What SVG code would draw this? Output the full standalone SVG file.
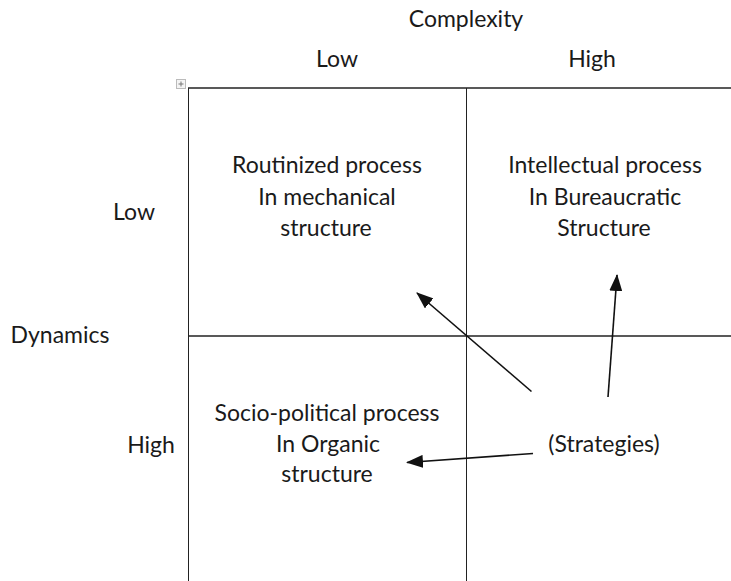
<svg xmlns="http://www.w3.org/2000/svg" width="731" height="581" viewBox="0 0 731 581">
  <style>
    text { font-family: Lato, "Open Sans", "Liberation Sans", sans-serif; font-size: 23px; fill: #1a1a1a; text-anchor: middle; }
    .grid { stroke: #222; stroke-width: 1; fill: none; }
    .grid-top { stroke: #222; stroke-width: 1.6; fill: none; }
    .arrow { stroke: #111; stroke-width: 1.6; fill: none; marker-end: url(#head); }
  </style>
  <defs>
    <marker id="head" viewBox="0 0 17 13" refX="16" refY="6.5" markerWidth="17" markerHeight="13" markerUnits="userSpaceOnUse" orient="auto">
      <path d="M0,0 L17,6.5 L0,13 Z" fill="#111"/>
    </marker>
  </defs>
  <rect width="731" height="581" fill="#fff"/>

  <!-- axis titles and headers -->
  <text x="466" y="27">Complexity</text>
  <text x="337" y="67">Low</text>
  <text x="592" y="67">High</text>
  <text x="134" y="220">Low</text>
  <text x="60" y="343">Dynamics</text>
  <text x="151" y="453">High</text>

  <!-- table move handle -->
  <g id="handle">
    <rect x="176.5" y="79.5" width="9" height="9" fill="#f4f4f4" stroke="#bbb" stroke-width="1"/>
    <path d="M181,81.5 V86.5 M178.5,84 H183.5" stroke="#777" stroke-width="1"/>
  </g>

  <!-- grid -->
  <g id="grid">
    <line class="grid-top" x1="188" y1="88" x2="731" y2="88"/>
    <line class="grid" x1="188.5" y1="88" x2="188.5" y2="581"/>
    <line class="grid" x1="466.5" y1="88" x2="466.5" y2="581"/>
    <line class="grid-top" x1="188" y1="336" x2="731" y2="336"/>
  </g>

  <g id="routinized">
    <text x="327" y="173">Routinized process</text>
    <text x="327" y="205">In mechanical</text>
    <text x="326" y="236">structure</text>
  </g>
  <g id="intellectual">
    <text x="605" y="173">Intellectual process</text>
    <text x="605" y="205">In Bureaucratic</text>
    <text x="604" y="236">Structure</text>
  </g>
  <g id="sociopolitical">
    <text x="327" y="421">Socio-political process</text>
    <text x="328" y="452">In Organic</text>
    <text x="327" y="482">structure</text>
  </g>
  <g id="strategies">
    <text x="604" y="452">(Strategies)</text>
  </g>

  <!-- connectors -->
  <g id="connectors">
    <line class="arrow" x1="531.5" y1="391.5" x2="417" y2="293"/>
    <line class="arrow" x1="608" y1="397" x2="617" y2="275"/>
    <line class="arrow" x1="533" y1="453.5" x2="407" y2="462.5"/>
  </g>
</svg>
